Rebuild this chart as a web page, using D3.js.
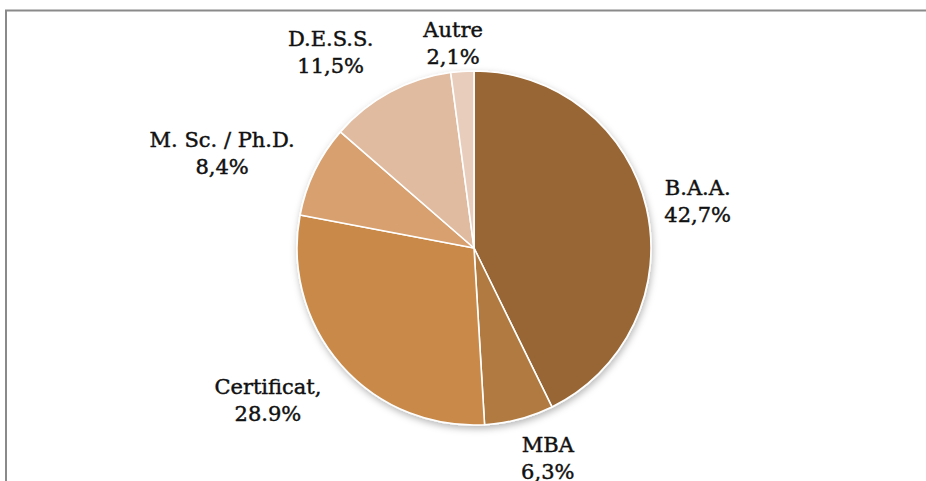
<!DOCTYPE html>
<html>
<head>
<meta charset="utf-8">
<script src="https://cdn.jsdelivr.net/npm/d3@7"></script>
<style>
  body { margin: 0; background: #fff; }
  .slice-label { font-family: "DejaVu Serif", serif; font-size: 21px; fill: #111; stroke: #111; stroke-width: 0.45px; }
</style>
</head>
<body>
<div id="chart"><svg></svg></div>
<script>
const categories = ["B.A.A.", "MBA", "Certificat,", "M. Sc. / Ph.D.", "D.E.S.S.", "Autre"];
const shares = [42.7, 6.3, 28.9, 8.4, 11.5, 2.1];
const shareLabels = ["42,7%", "6,3%", "28.9%", "8,4%", "11,5%", "2,1%"];
const colors = ["#986634", "#b07a40", "#c88948", "#d7a06e", "#e0bba0", "#e9cdbc"];

const width = 926;
const height = 481;
const cx = 474;
const cy = 248;
const radius = 177;

const svg = d3
  .select("#chart")
  .select("svg")
  .attr("width", width)
  .attr("height", height);

// frame, only left and top edges are visible in the picture
svg
  .append("rect")
  .attr("x", 6)
  .attr("y", 10.5)
  .attr("width", 960)
  .attr("height", 520)
  .attr("fill", "none")
  .attr("stroke", "#8a8a8a")
  .attr("stroke-width", 2);

const defs = svg.append("defs");
const shadow = defs.append("filter").attr("id", "shadow").attr("x", "-20%").attr("y", "-20%").attr("width", "140%").attr("height", "140%");
shadow
  .append("feDropShadow")
  .attr("dx", 1)
  .attr("dy", 3)
  .attr("stdDeviation", 3.5)
  .attr("flood-color", "#000")
  .attr("flood-opacity", 0.28);

const data = categories.map((c, i) => ({ name: c, value: shares[i], label: shareLabels[i], color: colors[i] }));

const pie = d3.pie().value((d) => d.value).sort(null);
const arcs = pie(data);

const arc = d3.arc().innerRadius(0).outerRadius(radius);
const labelArc = d3.arc().innerRadius(radius * 1.28).outerRadius(radius * 1.28);

const g = svg.append("g").attr("transform", `translate(${cx},${cy})`);

g.append("g")
  .attr("filter", "url(#shadow)")
  .selectAll("path")
  .data(arcs)
  .join("path")
  .attr("d", arc)
  .attr("fill", (d) => d.data.color)
  .attr("stroke", "#fff")
  .attr("stroke-width", 1.6)
  .attr("stroke-linejoin", "round");

const labels = g
  .selectAll("text")
  .data(arcs)
  .join("text")
  .classed("slice-label", true)
  .attr("text-anchor", "middle")
  .attr("transform", (d) => {
    const [x, y] = labelArc.centroid(d);
    let dx = 0;
    let dy = 0;
    switch (d.data.name) {
      case "B.A.A.": dx = 3; dy = 4; break;
      case "MBA": dx = 16; dy = -9; break;
      case "Certificat,": dx = -36; dy = 2; break;
      case "M. Sc. / Ph.D.": dx = -48; dy = 4; break;
      case "D.E.S.S.": dx = -36; dy = 4; break;
      case "Autre": dx = -6; dy = 21; break;
    }
    return `translate(${x + dx},${y + dy})`;
  });

labels.append("tspan").attr("x", 0).attr("y", -6).text((d) => d.data.name);
labels.append("tspan").attr("x", 0).attr("y", 21).text((d) => d.data.label);
</script>
</body>
</html>
